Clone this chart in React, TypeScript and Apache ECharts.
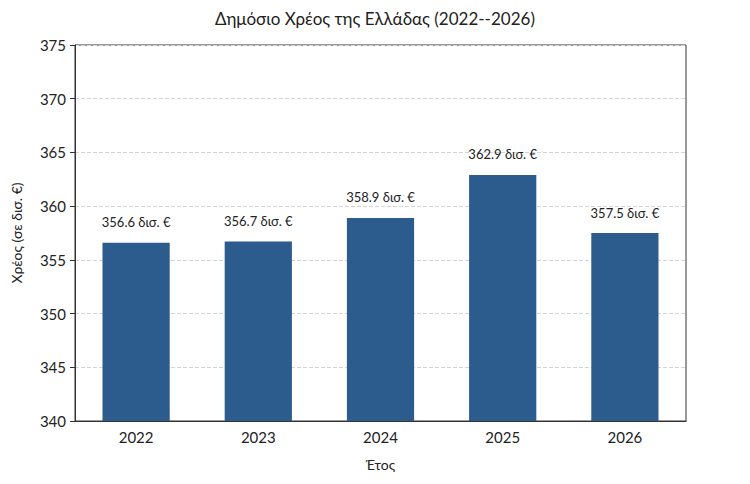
import { useEffect, useRef } from 'react';
import * as echarts from 'echarts';

const years = ['2022', '2023', '2024', '2025', '2026'];
const debt = [356.6, 356.7, 358.9, 362.9, 357.5];

const FONT = 'Lato, "Noto Sans", sans-serif';

export default function App() {
  const chartRef = useRef<HTMLDivElement>(null);

  useEffect(() => {
    document.body.style.margin = '0';
    if (!chartRef.current) return;
    const chart = echarts.init(chartRef.current, undefined, { renderer: 'svg' });

    const option: echarts.EChartsOption = {
      animation: false,
      backgroundColor: '#fff',
      textStyle: { fontFamily: FONT },
      title: {
        text: 'Δημόσιο Χρέος της Ελλάδας (2022--2026)',
        left: 'center',
        top: 5,
        textStyle: { fontFamily: FONT, fontSize: 17, fontWeight: 'normal', color: '#222' },
      },
      grid: {
        left: 75,
        right: 64,
        top: 45,
        bottom: 63,
        show: true,
        borderColor: '#333',
        borderWidth: 1,
      },
      xAxis: {
        type: 'category',
        data: years,
        name: 'Έτος',
        nameLocation: 'middle',
        nameGap: 36,
        nameTextStyle: { fontSize: 14, color: '#222' },
        axisLine: { lineStyle: { color: '#333' } },
        axisTick: { alignWithLabel: true, length: 5, lineStyle: { color: '#333' } },
        axisLabel: { fontSize: 15, color: '#222', margin: 8 },
      },
      yAxis: {
        type: 'value',
        min: 340,
        max: 375,
        interval: 5,
        name: 'Χρέος (σε δισ. €)',
        nameLocation: 'middle',
        nameGap: 52,
        nameTextStyle: { fontSize: 14, color: '#222' },
        axisLine: { show: true, lineStyle: { color: '#333' } },
        axisTick: { show: true, length: 5, lineStyle: { color: '#333' } },
        axisLabel: { fontSize: 15, color: '#222', margin: 9 },
        splitLine: { lineStyle: { color: '#d4d4d4', type: 'dashed' } },
      },
      series: [
        {
          type: 'bar',
          data: debt,
          barWidth: '55%',
          itemStyle: { color: '#2c5b8e' },
          label: {
            show: true,
            position: 'top',
            distance: 14,
            fontSize: 13,
            color: '#222',
            formatter: (p: any) => `${p.value.toFixed(1)} δισ. €`,
          },
        },
      ],
    };

    chart.setOption(option);
    return () => chart.dispose();
  }, []);

  return <div ref={chartRef} style={{ width: 750, height: 484 }} />;
}
